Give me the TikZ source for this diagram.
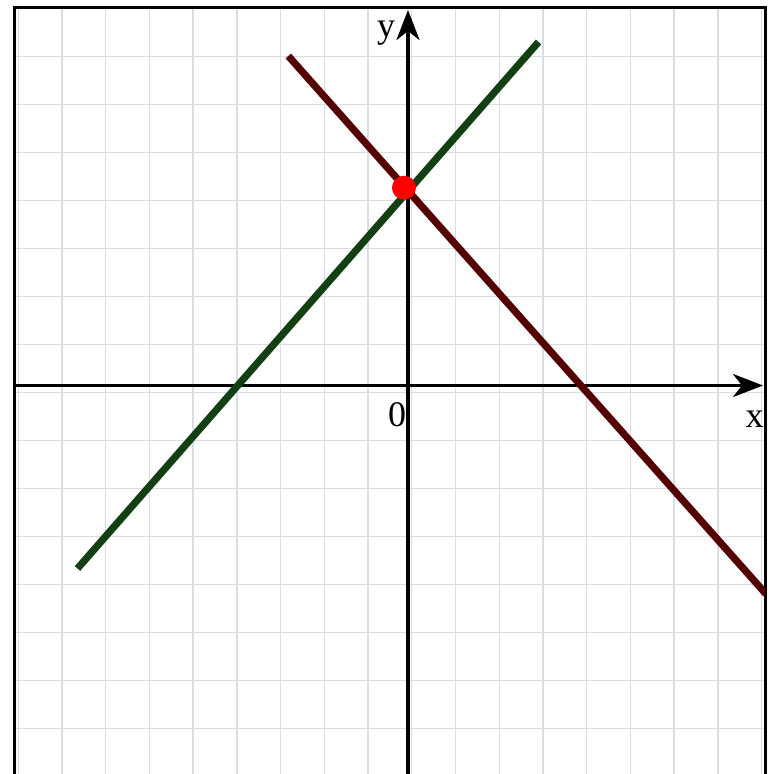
\documentclass[tikz,border=0pt]{standalone}
\usepackage{fontspec}
\setmainfont{Liberation Serif}
\usetikzlibrary{arrows.meta}
\definecolor{gridc}{RGB}{218,221,228}
\definecolor{lineg}{RGB}{18,64,18}
\definecolor{liner}{RGB}{85,0,0}
\tikzset{
  gridline/.style={draw=gridc, line width=1.4pt},
  axisline/.style={draw=black, line width=3.8pt, -{Stealth[length=30pt,width=23pt,inset=9pt]}},
  graphline/.style={line width=7.2pt, line cap=butt},
  lbl/.style={inner sep=0pt, anchor=base, font=\fontsize{36}{40}\selectfont},
  dotnode/.style={circle, fill=red, inner sep=0pt, minimum size=24pt}
}
\begin{document}
\begin{tikzpicture}[x=1pt,y=-1pt]
\useasboundingbox (0,0) rectangle (769,774);
\fill[white] (0,0) rectangle (769,774);
\begin{scope}
\clip (14.5,7.5) rectangle (765.5,774);
\foreach \k in {0,...,17} {
  \draw[gridline] ({18.3+43.72*\k},0) -- ({18.3+43.72*\k},774);
}
\foreach \k in {0,...,16} {
  \draw[gridline] (0,{8.7+48.0*\k}) -- (769,{8.7+48.0*\k});
}
\end{scope}
\begin{scope}
\clip (0,0) rectangle (769,774);
\draw[line width=2.8pt] (14.5,800) -- (14.5,7.5) -- (765.5,7.5) -- (765.5,800);
\end{scope}
% axes
\coordinate (xs) at (14.5,385.5);
\coordinate (xe) at (763,385.5);
\coordinate (ys) at (408,774);
\coordinate (ye) at (408,10);
\draw[axisline] (xs) -- (xe);
\draw[axisline] (ys) -- (ye);
% graph lines
\coordinate (g1) at (77.5,568.5);
\coordinate (g2) at (538.5,42);
\coordinate (r1) at (288.3,56);
\coordinate (r2) at (766,594);
\begin{scope}
\clip (0,0) rectangle (765.5,774);
\draw[graphline, draw=liner] (r1) -- (r2);
\end{scope}
\draw[graphline, draw=lineg] (g1) -- (g2);
% intersection point
\node[dotnode] (p) at (404,187.7) {};
% labels
\node[lbl] (ylab) at (386,37) {y};
\node[lbl] (xlab) at (754.5,427) {x};
\node[lbl] (olab) at (397,426.7) {0};
\end{tikzpicture}
\end{document}
